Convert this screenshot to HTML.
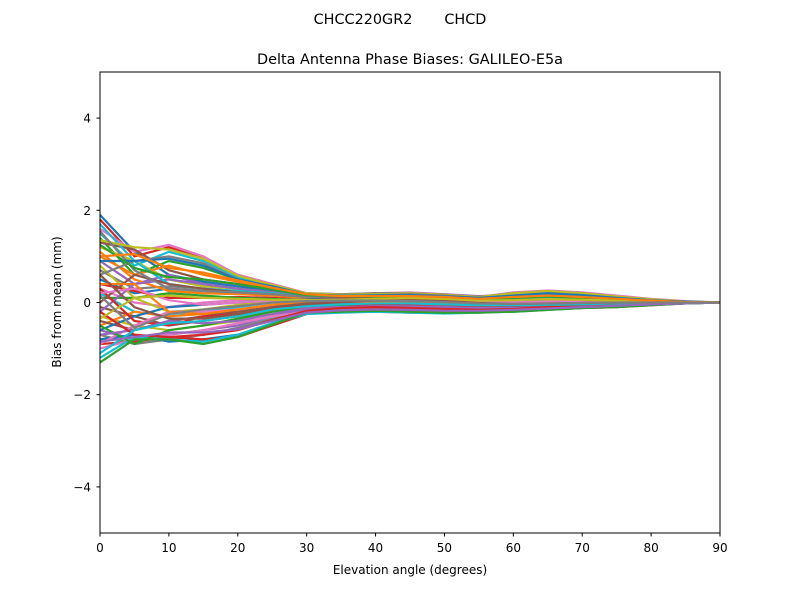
<!DOCTYPE html>
<html><head><meta charset="utf-8"><style>
body{margin:0;background:#fff;}
svg text{font-family:"DejaVu Sans","Liberation Sans",sans-serif;fill:#000;}
</style></head><body>
<svg id="chart" width="800" height="600">
<rect width="800" height="600" fill="#fff"/>
<text x="400" y="24" font-size="14.4" text-anchor="middle" style="white-space:pre" xml:space="preserve">CHCC220GR2       CHCD</text>
<text x="410" y="64" font-size="14.4" text-anchor="middle">Delta Antenna Phase Biases: GALILEO-E5a</text>
<g id="lines"></g>
<rect x="100" y="72" width="620" height="461" fill="none" stroke="#000" stroke-width="1"/>
<g id="xt"></g>
<g id="yt"></g>
<text x="410" y="574" font-size="12" text-anchor="middle">Elevation angle (degrees)</text>
<text transform="translate(61,302) rotate(-90)" font-size="12" text-anchor="middle">Bias from mean (mm)</text>
</svg>
<script>
const elevations=[0,5,10,15,20,25,30,35,40,45,50,55,60,65,70,75,80,85,90];
const xTicks=[0,10,20,30,40,50,60,70,80,90];
const yTicks=[-4,-2,0,2,4];
const s01=[1.9,1.1,0.6,0.45,0.35,0.25,0.15,0.12,0.1,0.08,0.05,0.02,0.05,0.08,0.06,0.04,0.02,0.01,0];
const s02=[1.8,1.0,1.2,0.95,0.6,0.4,0.2,0.15,0.12,0.1,0.06,0.05,0.1,0.12,0.1,0.06,0.03,0.01,0];
const s03=[1.6,1.1,1.25,1.0,0.6,0.4,0.2,0.18,0.2,0.22,0.18,0.12,0.22,0.26,0.22,0.15,0.08,0.03,0];
const s04=[1.5,0.8,1.1,0.9,0.55,0.35,0.18,0.16,0.18,0.2,0.15,0.1,0.2,0.24,0.2,0.12,0.06,0.02,0];
const s05=[1.4,0.6,0.9,0.75,0.5,0.32,0.15,0.14,0.15,0.18,0.14,0.08,0.18,0.22,0.18,0.1,0.05,0.02,0];
const s06=[1.3,1.15,0.7,0.5,0.4,0.3,0.18,0.12,0.1,0.1,0.08,0.05,0.1,0.12,0.1,0.06,0.03,0.01,0];
const s07=[1.2,0.9,0.5,0.35,0.3,0.22,0.12,0.1,0.08,0.06,0.04,0.02,0.05,0.07,0.05,0.03,0.02,0.01,0];
const s08=[1.0,0.6,0.8,0.6,0.45,0.3,0.16,0.12,0.1,0.08,0.06,0.04,0.08,0.1,0.08,0.05,0.03,0.01,0];
const s09=[0.9,0.4,0.6,0.4,0.3,0.22,0.12,0.08,0.06,0.05,0.04,0.02,0.04,0.06,0.05,0.03,0.02,0.01,0];
const s10=[0.7,0.3,0.35,0.3,0.25,0.2,0.12,0.1,0.08,0.06,0.05,0.03,0.05,0.06,0.05,0.03,0.02,0.01,0];
const s11=[0.5,0.2,0.3,0.25,0.2,0.15,0.1,0.06,0.04,0.03,0.02,0.0,0.02,0.03,0.03,0.02,0.01,0.0,0];
const s12=[0.4,0.25,0.1,0.1,0.12,0.1,0.06,0.05,0.04,0.03,0.02,0.0,0.02,0.03,0.02,0.01,0.01,0.0,0];
const s13=[0.3,0.0,-0.1,0.0,0.05,0.06,0.04,0.02,0.02,0.01,0.0,-0.02,0.0,0.01,0.01,0.0,0.0,0.0,0];
const s14=[0.2,-0.2,-0.3,-0.2,-0.1,0.0,0.02,0.02,0.0,0.0,-0.02,-0.04,-0.02,0.0,0.0,0.0,0.0,0.0,0];
const s15=[0.1,0.1,0.2,0.15,0.1,0.08,0.05,0.04,0.03,0.02,0.01,0.0,0.01,0.02,0.02,0.01,0.0,0.0,0];
const s16=[-0.1,-0.3,-0.5,-0.4,-0.3,-0.15,-0.05,0.0,0.02,0.02,0.0,-0.04,-0.05,-0.03,-0.02,-0.01,0.0,0.0,0];
const s17=[-0.3,-0.5,-0.6,-0.5,-0.4,-0.2,-0.1,-0.05,-0.02,0.0,-0.02,-0.05,-0.06,-0.05,-0.04,-0.02,-0.01,0.0,0];
const s18=[-0.5,-0.2,-0.3,-0.25,-0.2,-0.1,-0.05,-0.02,0.0,0.0,-0.02,-0.04,-0.05,-0.04,-0.03,-0.02,-0.01,0.0,0];
const s19=[-0.6,-0.8,-0.7,-0.6,-0.5,-0.3,-0.15,-0.1,-0.08,-0.06,-0.08,-0.1,-0.1,-0.08,-0.06,-0.04,-0.02,-0.01,0];
const s20=[-0.7,-0.9,-0.8,-0.7,-0.55,-0.35,-0.2,-0.15,-0.12,-0.1,-0.12,-0.15,-0.15,-0.12,-0.08,-0.05,-0.03,-0.01,0];
const s21=[-0.8,-0.7,-0.85,-0.8,-0.7,-0.45,-0.22,-0.18,-0.15,-0.18,-0.2,-0.2,-0.18,-0.15,-0.1,-0.08,-0.05,-0.02,0];
const s22=[-0.9,-0.85,-0.75,-0.8,-0.75,-0.5,-0.25,-0.2,-0.2,-0.22,-0.22,-0.2,-0.18,-0.15,-0.12,-0.1,-0.06,-0.02,0];
const s23=[-1.0,-0.8,-0.7,-0.6,-0.45,-0.3,-0.2,-0.15,-0.12,-0.12,-0.12,-0.1,-0.08,-0.06,-0.05,-0.04,-0.02,-0.01,0];
const s24=[-1.2,-0.75,-0.8,-0.85,-0.7,-0.45,-0.25,-0.22,-0.2,-0.22,-0.24,-0.22,-0.2,-0.16,-0.12,-0.08,-0.05,-0.02,0];
const s25=[-1.3,-0.8,-0.8,-0.9,-0.75,-0.48,-0.22,-0.2,-0.18,-0.2,-0.22,-0.22,-0.2,-0.16,-0.12,-0.1,-0.06,-0.02,0];
const s26=[-0.4,-0.6,-0.4,-0.3,-0.2,-0.1,-0.05,0.0,0.05,0.08,0.06,0.02,0.0,0.02,0.02,0.01,0.0,0.0,0];
const s27=[0.8,0.1,-0.2,-0.15,-0.05,0.05,0.08,0.1,0.1,0.1,0.08,0.05,0.02,0.04,0.04,0.02,0.01,0.0,0];
const s28=[1.1,0.5,0.25,0.2,0.18,0.15,0.1,0.12,0.15,0.16,0.14,0.1,0.12,0.15,0.12,0.08,0.04,0.01,0];
const s29=[-0.2,0.4,0.5,0.4,0.3,0.2,0.12,0.15,0.2,0.2,0.18,0.14,0.16,0.18,0.15,0.1,0.05,0.02,0];
const s30=[0.6,0.9,1.0,0.85,0.5,0.32,0.2,0.18,0.2,0.2,0.16,0.12,0.2,0.24,0.2,0.12,0.06,0.02,0];
const s31=[-0.6,-0.3,-0.1,-0.05,0.0,0.05,0.06,0.08,0.1,0.12,0.1,0.06,0.05,0.06,0.05,0.03,0.02,0.01,0];
const s32=[0.3,-0.4,-0.5,-0.3,-0.25,-0.12,-0.08,-0.06,-0.05,-0.04,-0.05,-0.08,-0.1,-0.08,-0.05,-0.03,-0.02,-0.01,0];
const s33=[-0.9,-0.5,-0.2,-0.2,-0.15,-0.05,0.0,0.05,0.08,0.08,0.06,0.02,0.0,0.0,0.0,0.0,0.0,0.0,0];
const s34=[1.7,0.9,0.4,0.3,0.25,0.2,0.12,0.1,0.1,0.1,0.08,0.06,0.1,0.12,0.1,0.06,0.03,0.01,0];
const s35=[-0.5,-0.9,-0.6,-0.5,-0.35,-0.2,-0.1,-0.08,-0.1,-0.12,-0.14,-0.16,-0.14,-0.1,-0.08,-0.05,-0.03,-0.01,0];
const s36=[0.0,0.6,0.4,0.3,0.22,0.18,0.12,0.1,0.08,0.06,0.04,0.02,0.04,0.06,0.05,0.03,0.02,0.01,0];
const s37=[1.35,1.2,1.15,0.95,0.58,0.38,0.2,0.17,0.18,0.2,0.17,0.12,0.2,0.25,0.2,0.13,0.07,0.02,0];
const s38=[0.4,0.4,-0.2,-0.25,-0.15,-0.05,0.02,0.05,0.06,0.06,0.04,0.0,-0.02,0.0,0.0,0.0,0.0,0.0,0];
const s39=[-0.7,-0.6,-0.4,-0.45,-0.4,-0.25,-0.12,-0.1,-0.08,-0.08,-0.1,-0.12,-0.12,-0.1,-0.07,-0.05,-0.03,-0.01,0];
const s40=[1.55,0.7,0.3,0.25,0.22,0.18,0.12,0.14,0.16,0.18,0.15,0.1,0.12,0.14,0.12,0.08,0.04,0.01,0];
const s41=[0.9,0.9,0.95,0.8,0.5,0.35,0.18,0.15,0.15,0.16,0.13,0.1,0.15,0.2,0.16,0.1,0.05,0.02,0];
const s42=[-0.2,-0.7,-0.75,-0.7,-0.6,-0.38,-0.18,-0.12,-0.1,-0.12,-0.14,-0.16,-0.14,-0.1,-0.08,-0.05,-0.03,-0.01,0];
const s43=[0.2,0.3,0.05,-0.05,0.0,0.04,0.05,0.06,0.05,0.04,0.02,0.0,0.01,0.02,0.02,0.01,0.0,0.0,0];
const s44=[-1.1,-0.6,-0.45,-0.4,-0.3,-0.15,-0.08,-0.04,-0.02,-0.02,-0.04,-0.06,-0.06,-0.05,-0.04,-0.02,-0.01,0.0,0];
const s45=[1.25,0.75,0.55,0.5,0.4,0.28,0.16,0.14,0.13,0.12,0.1,0.06,0.1,0.13,0.1,0.06,0.03,0.01,0];
const s46=[0.6,-0.1,-0.35,-0.35,-0.25,-0.1,-0.02,0.02,0.04,0.05,0.03,-0.01,-0.03,-0.02,-0.01,0.0,0.0,0.0,0];
const s47=[-0.35,0.1,0.15,0.1,0.08,0.06,0.05,0.06,0.08,0.1,0.08,0.04,0.05,0.07,0.06,0.04,0.02,0.01,0];
const s48=[1.0,1.05,0.75,0.65,0.48,0.32,0.18,0.14,0.14,0.14,0.12,0.08,0.12,0.15,0.12,0.08,0.04,0.01,0];
const s49=[-0.85,-0.75,-0.65,-0.65,-0.58,-0.4,-0.22,-0.17,-0.15,-0.16,-0.18,-0.18,-0.16,-0.13,-0.1,-0.07,-0.04,-0.02,0];
const s50=[0.15,-0.55,-0.25,-0.15,-0.08,0.0,0.03,0.04,0.04,0.03,0.01,-0.02,-0.03,-0.02,-0.01,0.0,0.0,0.0,0];
const series=[s01,s02,s03,s04,s05,s06,s07,s08,s09,s10,s11,s12,s13,s14,s15,s16,s17,s18,s19,s20,s21,s22,s23,s24,s25,s26,s27,s28,s29,s30,s31,s32,s33,s34,s35,s36,s37,s38,s39,s40,s41,s42,s43,s44,s45,s46,s47,s48,s49,s50];
const colors=['#1f77b4','#ff7f0e','#2ca02c','#d62728','#9467bd','#8c564b','#e377c2','#7f7f7f','#bcbd22','#17becf'];
const NS='http://www.w3.org/2000/svg';
const xs=v=>100+v/90*620;
const ys=v=>302.5-v*46.1;
const lg=document.getElementById('lines');
series.forEach((s,i)=>{
  const p=document.createElementNS(NS,'polyline');
  p.setAttribute('points',s.map((v,j)=>xs(elevations[j])+','+ys(v)).join(' '));
  p.setAttribute('fill','none');
  p.setAttribute('stroke',colors[(i*3)%10]);
  p.setAttribute('stroke-width','2.2');
  
  
  lg.appendChild(p);
});
const xt=document.getElementById('xt');
xTicks.forEach(t=>{
  const l=document.createElementNS(NS,'line');
  l.setAttribute('x1',xs(t));l.setAttribute('x2',xs(t));l.setAttribute('y1',533);l.setAttribute('y2',536.5);l.setAttribute('stroke','#000');
  
  
  xt.appendChild(l);
  const tx=document.createElementNS(NS,'text');
  tx.setAttribute('x',xs(t));tx.setAttribute('y',552);tx.setAttribute('font-size','12');tx.setAttribute('text-anchor','middle');
  tx.textContent=t;
  
  
  xt.appendChild(tx);
});
const yt=document.getElementById('yt');
yTicks.forEach(t=>{
  const l=document.createElementNS(NS,'line');
  l.setAttribute('x1',96.5);l.setAttribute('x2',100);l.setAttribute('y1',ys(t));l.setAttribute('y2',ys(t));l.setAttribute('stroke','#000');
  
  
  yt.appendChild(l);
  const tx=document.createElementNS(NS,'text');
  tx.setAttribute('x',91);tx.setAttribute('y',ys(t)+4.5);tx.setAttribute('font-size','12');tx.setAttribute('text-anchor','end');
  tx.textContent=t<0?'\u2212'+Math.abs(t):String(t);
  
  
  yt.appendChild(tx);
});
</script>
</body></html>
